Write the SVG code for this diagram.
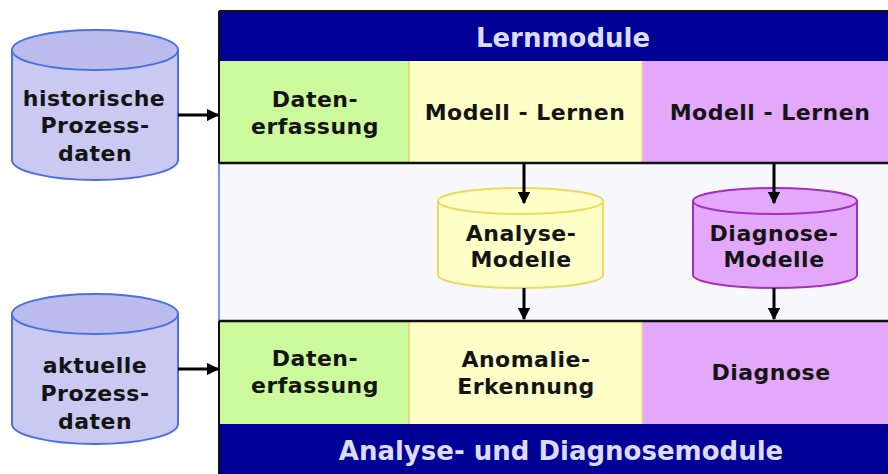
<svg xmlns="http://www.w3.org/2000/svg" width="888" height="474" viewBox="0 0 888 474">
  <defs>
    <style>
      text { font-family: "DejaVu Sans", Verdana, sans-serif; font-weight: bold; text-anchor: middle; }
      .lbl { font-size: 22px; letter-spacing: 0.5px; fill: #141414; }
      .title { font-size: 26px; fill: #dcdcff; }
      .band { fill: #000096; }
      .green { fill: #ccf99c; }
      .yellow { fill: #ffffc8; }
      .purple { fill: #e4a8fa; }
      .dbBody { fill: #c9c9f2; stroke: #4a6fe0; stroke-width: 2; }
      .dbTop { fill: #bcbcec; stroke: #4a6fe0; stroke-width: 2; }
      .anBody { fill: #ffffc8; stroke: #f0d860; stroke-width: 2; }
      .anTop { fill: #ffffc8; stroke: #f0d860; stroke-width: 2; }
      .diBody { fill: #e4a8fa; stroke: #a030c0; stroke-width: 2; }
      .diTop { fill: #e4a8fa; stroke: #a030c0; stroke-width: 2; }
      .conn { stroke: #000000; stroke-width: 3; fill: none; marker-end: url(#head); }
    </style>
    <marker id="head" viewBox="0 0 10 10" refX="9" refY="5" markerWidth="4.2" markerHeight="4.2" orient="auto" markerUnits="strokeWidth">
      <path d="M0,0 L10,5 L0,10 Z" fill="#000000"/>
    </marker>
  </defs>

  <rect x="0" y="0" width="888" height="474" fill="#ffffff"/>

  <!-- frame background -->
  <rect x="219" y="163" width="669" height="158" fill="#f8f8fc"/>
  <line x1="219" y1="163" x2="219" y2="321" stroke="#6f9cf0" stroke-width="2"/>

  <!-- learning modules -->
  <g id="lernmodule">
    <rect class="band" x="219" y="11" width="669" height="50"/>
    <line x1="219" y1="11" x2="888" y2="11" stroke="#111111" stroke-width="2"/>
    <text class="title" x="563" y="47">Lernmodule</text>
  </g>
  <g id="lern-datenerfassung">
    <rect class="green" x="219" y="61" width="190" height="102"/>
    <text class="lbl" x="315" y="107">Daten-</text>
    <text class="lbl" x="315" y="134">erfassung</text>
  </g>
  <g id="lern-analyse">
    <rect class="yellow" x="409" y="61" width="233" height="102"/>
    <line x1="409" y1="61" x2="409" y2="163" stroke="#e0d070" stroke-width="1.5"/>
    <text class="lbl" x="525" y="120">Modell - Lernen</text>
  </g>
  <g id="lern-diagnose">
    <rect class="purple" x="642" y="61" width="246" height="102"/>
    <line x1="642" y1="61" x2="642" y2="163" stroke="#f0d890" stroke-width="1.5"/>
    <text class="lbl" x="770" y="120">Modell - Lernen</text>
  </g>
  <line x1="219" y1="11" x2="219" y2="163" stroke="#111111" stroke-width="2"/>
  <line x1="219" y1="163" x2="888" y2="163" stroke="#111111" stroke-width="2.5"/>

  <!-- analysis and diagnosis modules -->
  <g id="an-datenerfassung">
    <rect class="green" x="219" y="321" width="190" height="103"/>
    <text class="lbl" x="315" y="366">Daten-</text>
    <text class="lbl" x="315" y="393">erfassung</text>
  </g>
  <g id="anomalie">
    <rect class="yellow" x="409" y="321" width="233" height="103"/>
    <line x1="409" y1="321" x2="409" y2="424" stroke="#e0d070" stroke-width="1.5"/>
    <text class="lbl" x="526" y="367">Anomalie-</text>
    <text class="lbl" x="526" y="394">Erkennung</text>
  </g>
  <g id="diagnose">
    <rect class="purple" x="642" y="321" width="246" height="103"/>
    <line x1="642" y1="321" x2="642" y2="424" stroke="#f0d890" stroke-width="1.5"/>
    <text class="lbl" x="771" y="380">Diagnose</text>
  </g>
  <g id="analysemodule">
    <rect class="band" x="219" y="424" width="669" height="50"/>
    <text class="title" x="561" y="460">Analyse- und Diagnosemodule</text>
  </g>
  <line x1="219" y1="321" x2="888" y2="321" stroke="#111111" stroke-width="2.5"/>
  <line x1="219" y1="321" x2="219" y2="474" stroke="#111111" stroke-width="2"/>

  <!-- data stores -->
  <g id="historische">
    <path class="dbBody" d="M12,50 L12,160 A83,20 0 0 0 178,160 L178,50"/>
    <ellipse class="dbTop" cx="95" cy="50" rx="83" ry="20"/>
    <text class="lbl" x="94" y="106">historische</text>
    <text class="lbl" x="95" y="133">Prozess-</text>
    <text class="lbl" x="95" y="161">daten</text>
  </g>
  <g id="aktuelle">
    <path class="dbBody" d="M12,314 L12,424 A83,20 0 0 0 178,424 L178,314"/>
    <ellipse class="dbTop" cx="95" cy="314" rx="83" ry="20"/>
    <text class="lbl" x="95" y="373">aktuelle</text>
    <text class="lbl" x="95" y="401">Prozess-</text>
    <text class="lbl" x="95" y="429">daten</text>
  </g>
  <g id="analyse-modelle">
    <path class="anBody" d="M438,201 L438,275 A82.5,13 0 0 0 603,275 L603,201"/>
    <ellipse class="anTop" cx="520.5" cy="201" rx="82.5" ry="13"/>
    <text class="lbl" x="521" y="241">Analyse-</text>
    <text class="lbl" x="521" y="267">Modelle</text>
  </g>
  <g id="diagnose-modelle">
    <path class="diBody" d="M693,201 L693,275 A82,13 0 0 0 857,275 L857,201"/>
    <ellipse class="diTop" cx="775" cy="201" rx="82" ry="13"/>
    <text class="lbl" x="774" y="241">Diagnose-</text>
    <text class="lbl" x="774" y="267">Modelle</text>
  </g>

  <!-- connectors -->
  <g id="connectors">
    <line class="conn" x1="178" y1="115" x2="218" y2="115"/>
    <line class="conn" x1="178" y1="369" x2="218" y2="369"/>
    <line class="conn" x1="524" y1="164" x2="524" y2="203"/>
    <line class="conn" x1="774" y1="164" x2="774" y2="203"/>
    <line class="conn" x1="524" y1="288" x2="524" y2="319"/>
    <line class="conn" x1="774" y1="288" x2="774" y2="319"/>
  </g>
</svg>
